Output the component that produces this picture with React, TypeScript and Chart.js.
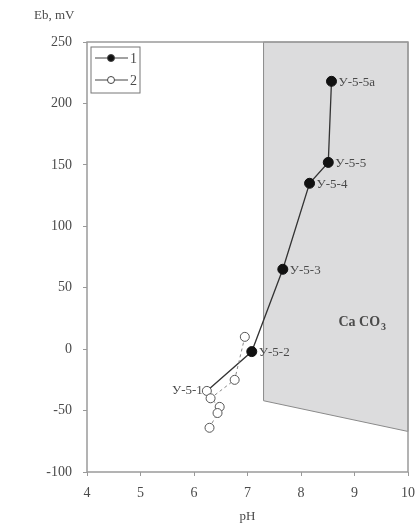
import React, { useEffect, useRef } from "react";
import { Chart, registerables } from "chart.js";

Chart.register(...registerables);

// Series 1 (filled markers, solid line) — first point is У-5-1 (open marker)
const s1pH = [6.24, 7.08, 7.66, 8.16, 8.51, 8.57];
const s1Eb = [-34, -2, 65, 135, 152, 218];
const s1Labels = ["У-5-1", "У-5-2", "У-5-3", "У-5-4", "У-5-5", "У-5-5а"];

// Series 2 (open markers, dashed line)
const s2pH = [6.95, 6.76, 6.31, 6.48, 6.44, 6.29];
const s2Eb = [10, -25, -40, -47, -52, -64];

// CaCO3 field polygon
const polyPH = [7.3, 10, 10, 7.3];
const polyEb = [250, 250, -67, -42];

const xTicks = [4, 5, 6, 7, 8, 9, 10];
const yTicks = [-100, -50, 0, 50, 100, 150, 200, 250];

const FONT = "'Liberation Serif', 'DejaVu Serif', serif";
const TXT = "#4a4a4a";

const overlay = {
  id: "overlay",
  beforeDatasetsDraw(chart: any) {
    const { ctx, chartArea, scales } = chart;
    const xs = scales.x, ys = scales.y;
    ctx.save();
    ctx.beginPath();
    polyPH.forEach((p, i) => {
      const px = xs.getPixelForValue(p), py = ys.getPixelForValue(polyEb[i]);
      if (i === 0) ctx.moveTo(px, py); else ctx.lineTo(px, py);
    });
    ctx.closePath();
    ctx.fillStyle = "#dcdcdd";
    ctx.fill();
    ctx.strokeStyle = "#8a8a8a";
    ctx.lineWidth = 1;
    ctx.stroke();
    // frame
    ctx.strokeStyle = "#9a9a9a";
    ctx.lineWidth = 1.5;
    ctx.strokeRect(chartArea.left, chartArea.top, chartArea.right - chartArea.left, chartArea.bottom - chartArea.top);
    ctx.restore();
  },
  afterDraw(chart: any) {
    const { ctx, chartArea, scales } = chart;
    const xs = scales.x, ys = scales.y;
    ctx.save();
    ctx.fillStyle = TXT;
    ctx.font = `13px ${FONT}`;
    ctx.textBaseline = "middle";
    s1Labels.forEach((l, i) => {
      const px = xs.getPixelForValue(s1pH[i]), py = ys.getPixelForValue(s1Eb[i]);
      if (i === 0) {
        ctx.textAlign = "right";
        ctx.fillText(l, px - 4, py);
      } else {
        ctx.textAlign = "left";
        ctx.fillText(l, px + 7, py + 1);
      }
    });
    // Ca CO3
    ctx.font = `bold 14px ${FONT}`;
    ctx.textAlign = "left";
    const cx = xs.getPixelForValue(8.7), cy = ys.getPixelForValue(22);
    ctx.fillText("Ca CO", cx, cy);
    const w = ctx.measureText("Ca CO").width;
    ctx.font = `bold 10px ${FONT}`;
    ctx.fillText("3", cx + w + 1, cy + 5);
    // axis titles
    ctx.font = `13px ${FONT}`;
    ctx.textAlign = "left";
    ctx.fillText("Eb, mV", 34, 16);
    ctx.textAlign = "center";
    ctx.fillText("pH", (chartArea.left + chartArea.right) / 2, 517);
    // legend
    const lx = chartArea.left + 4, ly = chartArea.top + 5;
    ctx.fillStyle = "#fff";
    ctx.fillRect(lx, ly, 49, 46);
    ctx.strokeStyle = "#777";
    ctx.lineWidth = 1;
    ctx.strokeRect(lx, ly, 49, 46);
    const rows = [
      { y: ly + 11, filled: true, label: "1" },
      { y: ly + 33, filled: false, label: "2" },
    ];
    rows.forEach((r) => {
      ctx.strokeStyle = "#444";
      ctx.lineWidth = 1;
      ctx.beginPath();
      ctx.moveTo(lx + 4, r.y);
      ctx.lineTo(lx + 37, r.y);
      ctx.stroke();
      ctx.beginPath();
      ctx.arc(lx + 20, r.y, 3.5, 0, Math.PI * 2);
      ctx.fillStyle = r.filled ? "#111" : "#fff";
      ctx.fill();
      ctx.stroke();
      ctx.fillStyle = TXT;
      ctx.font = `14px ${FONT}`;
      ctx.textAlign = "left";
      ctx.fillText(r.label, lx + 39, r.y + 1);
    });
    ctx.restore();
  },
};

export default function App() {
  const ref = useRef<HTMLCanvasElement>(null);
  useEffect(() => {
    document.body.style.margin = "0";
    const chart = new Chart(ref.current!, {
      type: "scatter",
      data: {
        datasets: [
          {
            label: "2",
            data: s2pH.map((x, i) => ({ x, y: s2Eb[i] })),
            showLine: true,
            borderColor: "#888",
            borderWidth: 1,
            borderDash: [3, 3],
            pointRadius: 4.5,
            pointBackgroundColor: "#fff",
            pointBorderColor: "#555",
            pointBorderWidth: 1,
          },
          {
            label: "1",
            data: s1pH.map((x, i) => ({ x, y: s1Eb[i] })),
            showLine: true,
            borderColor: "#333",
            borderWidth: 1.3,
            pointRadius: s1pH.map((_, i) => (i === 0 ? 4.5 : 5)),
            pointBackgroundColor: s1pH.map((_, i) => (i === 0 ? "#fff" : "#111")),
            pointBorderColor: s1pH.map((_, i) => (i === 0 ? "#555" : "#111")),
            pointBorderWidth: 1,
          },
        ],
      },
      options: {
        animation: false,
        responsive: false,
        layout: { padding: { top: 42, right: 7, left: 0, bottom: 0 } },
        plugins: { legend: { display: false }, tooltip: { enabled: false } },
        scales: {
          x: {
            type: "linear",
            min: 4,
            max: 10,
            afterBuildTicks: (s: any) => { s.ticks = xTicks.map((v) => ({ value: v })); },
            afterFit: (s: any) => { s.height = 54; s.paddingRight = 0; s.paddingLeft = 0; },
            grid: { display: true, drawOnChartArea: false, drawTicks: true, tickLength: 4, tickColor: "#999", color: "#999" },
            border: { display: false },
            ticks: { padding: 9, color: TXT, font: { family: FONT, size: 14 } },
          },
          y: {
            type: "linear",
            min: -100,
            max: 250,
            afterBuildTicks: (s: any) => { s.ticks = yTicks.map((v) => ({ value: v })); },
            afterFit: (s: any) => { s.width = 87; s.paddingTop = 0; s.paddingBottom = 0; },
            grid: { display: true, drawOnChartArea: false, drawTicks: true, tickLength: 4, tickColor: "#999", color: "#999" },
            border: { display: false },
            ticks: { padding: 11, color: TXT, font: { family: FONT, size: 14 } },
          },
        },
      },
      plugins: [overlay],
    });
    return () => chart.destroy();
  }, []);
  return (
    <div style={{ position: "absolute", left: 0, top: 0, width: 415, height: 526 }}>
      <canvas ref={ref} width={415} height={526} style={{ width: 415, height: 526 }} />
    </div>
  );
}
